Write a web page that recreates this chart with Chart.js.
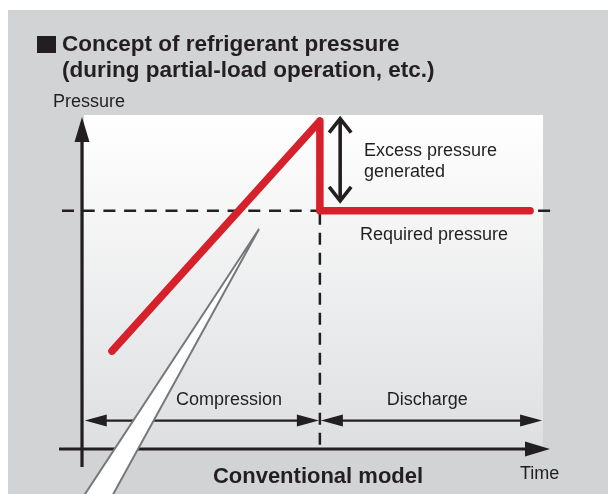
<!DOCTYPE html>
<html>
<head>
<meta charset="utf-8">
<script src="https://cdn.jsdelivr.net/npm/chart.js@4/dist/chart.umd.min.js"></script>
<style>
  html, body { margin: 0; padding: 0; background: #fff; }
  body { width: 608px; height: 494px; position: relative; overflow: hidden; font-family: "Liberation Sans", Arial, sans-serif; }
  #panel { position: absolute; left: 8px; top: 10px; right: 0; bottom: 0; background: #d2d3d5; }
  #chart { position: absolute; left: 0; top: 0; }
  #mark { position: absolute; left: 37px; top: 36px; width: 19px; height: 17px; background: #231f20; }
  #title { position: absolute; left: 62px; top: 31px; font-weight: bold; font-size: 22.5px; line-height: 26px; color: #231f20; white-space: nowrap; }
</style>
</head>
<body>
<div id="panel"></div>
<canvas id="chart" width="608" height="494"></canvas>
<div id="mark"></div>
<div id="title">Concept of refrigerant pressure<br>(during partial-load operation, etc.)</div>
<script>
// pressure curve of the conventional model (time and pressure in 0-100 concept units)
const timePoints = [6.5, 51.6, 51.6, 97.2];
const pressureValues = [29.3, 98.2, 71.3, 71.3];

const requiredPressure = 71.3;
const switchTime = 51.6;

// excess pressure arrow: time, top, bottom
const excessTime = 56;
const excessRange = [99.5, 73.7];

// compression / discharge phases
const phaseLabels = ["Compression", "Discharge"];
const phaseStart = [0.6, 51.6];
const phaseEnd = [51.6, 99.8];
const phaseLevel = 8.5;

const axisLabels = ["Pressure", "Time"];
const noteLabels = ["Excess pressure", "generated", "Required pressure"];
const modelLabel = "Conventional model";

const INK = '#231f20';
const RED = '#d6202b';
const FONT = "18px 'Liberation Sans', Arial, sans-serif";

function filledHead(ctx, tx, ty, dx, dy, len, half) {
    ctx.beginPath();
    ctx.moveTo(tx, ty);
    ctx.lineTo(tx - dx * len - dy * half, ty - dy * len + dx * half);
    ctx.lineTo(tx - dx * len + dy * half, ty - dy * len - dx * half);
    ctx.closePath();
    ctx.fill();
}

function line(ctx, x1, y1, x2, y2) {
    ctx.beginPath();
    ctx.moveTo(x1, y1);
    ctx.lineTo(x2, y2);
    ctx.stroke();
}

const backdrop = {
    id: 'backdrop',
    beforeDatasetsDraw(chart) {
        const { ctx, chartArea: a, scales: { x, y } } = chart;
        ctx.save();
        // plot background
        const g = ctx.createLinearGradient(0, a.top, 0, a.bottom);
        g.addColorStop(0, '#ffffff');
        g.addColorStop(1, '#dedfe1');
        ctx.fillStyle = g;
        ctx.fillRect(a.left + 2, a.top, a.right - a.left - 2, a.bottom - a.top);

        // dashed reference lines
        const ry = y.getPixelForValue(requiredPressure);
        const sx = x.getPixelForValue(switchTime);
        ctx.strokeStyle = INK;
        ctx.lineWidth = 2.5;
        ctx.setLineDash([12, 8.7]);
        line(ctx, a.left - 20, ry, a.right + 8, ry);
        ctx.setLineDash([12, 8]);
        line(ctx, sx, ry + 2, sx, a.bottom);
        ctx.setLineDash([]);

        // axes
        ctx.fillStyle = INK;
        ctx.lineWidth = 3.2;
        line(ctx, a.left, a.bottom + 18, a.left, a.top + 20);
        filledHead(ctx, a.left, a.top + 2, 0, -1, 25, 7.5);
        line(ctx, a.left - 23, a.bottom, a.right - 10, a.bottom);
        filledHead(ctx, a.right + 7, a.bottom, 1, 0, 25, 7.5);
        ctx.restore();
    },
    afterDatasetsDraw(chart) {
        const { ctx, chartArea: a, scales: { x, y } } = chart;
        ctx.save();
        ctx.strokeStyle = INK;
        ctx.fillStyle = INK;

        // excess pressure double arrow (open heads)
        const ex = x.getPixelForValue(excessTime);
        const et = y.getPixelForValue(excessRange[0]);
        const eb = y.getPixelForValue(excessRange[1]);
        ctx.lineWidth = 3.6;
        ctx.lineJoin = 'miter';
        line(ctx, ex, et + 2, ex, eb - 2);
        ctx.beginPath();
        ctx.moveTo(ex - 11, et + 16); ctx.lineTo(ex, et + 2); ctx.lineTo(ex + 11, et + 16);
        ctx.stroke();
        ctx.beginPath();
        ctx.moveTo(ex - 11, eb - 16); ctx.lineTo(ex, eb - 2); ctx.lineTo(ex + 11, eb - 16);
        ctx.stroke();

        // phase arrows
        const py = y.getPixelForValue(phaseLevel);
        ctx.lineWidth = 2.2;
        phaseStart.forEach((s, i) => {
            const x1 = x.getPixelForValue(s) + (i ? 1 : 0);
            const x2 = x.getPixelForValue(phaseEnd[i]) - (i ? 0 : 1);
            line(ctx, x1 + 10, py, x2 - 10, py);
            filledHead(ctx, x1, py, -1, 0, 22, 6);
            filledHead(ctx, x2, py, 1, 0, 22, 6);
        });

        // labels
        ctx.font = FONT;
        ctx.textBaseline = 'alphabetic';
        ctx.textAlign = 'center';
        ctx.fillText(phaseLabels[0], x.getPixelForValue(31.9), py - 16);
        ctx.fillText(phaseLabels[1], x.getPixelForValue(74.9), py - 16);
        ctx.textAlign = 'left';
        ctx.fillText(noteLabels[0], 364, 156);
        ctx.fillText(noteLabels[1], 364, 177);
        ctx.fillText(noteLabels[2], 360, 240);
        ctx.fillText(axisLabels[0], a.left - 29, a.top - 8);
        ctx.fillText(axisLabels[1], a.right - 23, a.bottom + 30);
        ctx.textAlign = 'center';
        ctx.font = "bold 22px 'Liberation Sans', Arial, sans-serif";
        ctx.fillText(modelLabel, 318, 483);

        // pointer wedge
        ctx.beginPath();
        ctx.moveTo(259, 229);
        ctx.lineTo(68, 520);
        ctx.lineTo(99, 520);
        ctx.closePath();
        ctx.fillStyle = '#ffffff';
        ctx.fill();
        ctx.strokeStyle = '#77787b';
        ctx.lineWidth = 2;
        ctx.lineJoin = 'miter';
        ctx.stroke();
        ctx.restore();
    }
};

new Chart(document.getElementById('chart'), {
    type: 'line',
    data: {
        datasets: [{
            label: 'Pressure',
            data: timePoints.map((t, i) => ({ x: t, y: pressureValues[i] })),
            borderColor: RED,
            borderWidth: 7.5,
            borderCapStyle: 'round',
            borderJoinStyle: 'round',
            pointRadius: 0,
            tension: 0,
            fill: false,
            clip: false
        }]
    },
    options: {
        responsive: false,
        animation: false,
        events: [],
        layout: { padding: { left: 82, right: 65, top: 115, bottom: 45 } },
        plugins: { legend: { display: false }, tooltip: { enabled: false } },
        scales: {
            x: { type: 'linear', min: 0, max: 100, display: false },
            y: { type: 'linear', min: 0, max: 100, display: false }
        }
    },
    plugins: [backdrop]
});
</script>
</body>
</html>
